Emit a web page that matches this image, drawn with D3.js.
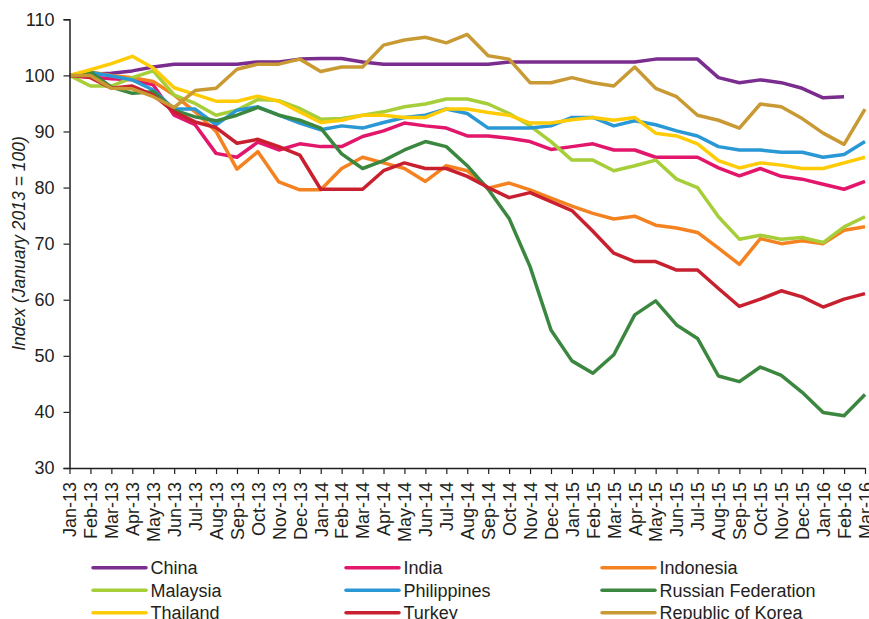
<!DOCTYPE html>
<html><head><meta charset="utf-8">
<script src="https://cdn.jsdelivr.net/npm/d3@7"></script>
<style>
html,body{margin:0;padding:0;background:#fff;}
svg{display:block;font-family:"Liberation Sans",Arial,sans-serif;}
</style></head>
<body><svg id="chart" width="869" height="619"></svg>
<script>
const months = ["Jan-13","Feb-13","Mar-13","Apr-13","May-13","Jun-13","Jul-13","Aug-13","Sep-13","Oct-13","Nov-13","Dec-13",
"Jan-14","Feb-14","Mar-14","Apr-14","May-14","Jun-14","Jul-14","Aug-14","Sep-14","Oct-14","Nov-14","Dec-14",
"Jan-15","Feb-15","Mar-15","Apr-15","May-15","Jun-15","Jul-15","Aug-15","Sep-15","Oct-15","Nov-15","Dec-15",
"Jan-16","Feb-16","Mar-16"];
const yTicks = [30,40,50,60,70,80,90,100,110];

const china = [100,100.2,100.4,100.8,101.5,102,102,102,102,102.4,102.4,102.9,103,103,102.4,102,102,102,102,102,102,102.4,102.4,102.4,102.4,102.4,102.4,102.4,102.9,102.9,102.9,99.6,98.7,99.2,98.7,97.7,96.0,96.2,null];
const india = [100,99.7,99.4,99.2,98.3,92.9,91.2,86.1,85.4,88.1,86.7,87.8,87.3,87.3,89.1,90.1,91.5,91.0,90.6,89.2,89.2,88.8,88.2,86.8,87.3,87.8,86.7,86.7,85.4,85.4,85.4,83.5,82.1,83.4,82.0,81.5,80.6,79.7,81.1];
const indonesia = [100,100.6,100,99.6,98.9,96.5,93.5,90,83.3,86.4,81.0,79.6,79.6,83.4,85.4,84.4,83.4,81.1,83.9,83.0,79.9,80.8,79.6,78.1,76.7,75.4,74.4,74.9,73.3,72.8,72.0,69.2,66.3,70.9,70.0,70.5,70.0,72.4,73.0];
const malaysia = [100,98.1,98.1,99.6,100.8,96.5,95.0,92.9,93.8,95.7,95.5,94.1,92.2,92.3,92.9,93.5,94.4,94.9,95.8,95.8,94.9,93.2,91.0,88.2,84.9,84.9,83.0,83.9,84.9,81.5,80.0,74.8,70.8,71.5,70.8,71.1,70.2,73.0,74.8];
const philippines = [100,100.5,99.9,99.2,97.4,94.0,94.0,91.2,93.8,94.4,92.9,91.5,90.3,91.0,90.6,91.6,92.5,92.9,94.0,93.2,90.6,90.6,90.6,91.0,92.5,92.5,91.0,91.9,91.2,90.1,89.2,87.3,86.7,86.7,86.3,86.3,85.4,85.9,88.2];
const russia = [100,100.6,97.9,96.8,97.1,93.8,92.6,91.9,92.9,94.3,92.9,92.0,90.6,86.0,83.4,84.8,86.7,88.2,87.3,83.9,79.7,74.5,65.9,54.6,49.1,46.9,50.2,57.3,59.8,55.5,53.1,46.4,45.4,48.0,46.5,43.5,39.9,39.3,43.1];
const thailand = [100,101,102.1,103.4,101.3,97.8,96.6,95.4,95.4,96.3,95.4,93.5,91.6,92.0,92.9,92.9,92.5,92.5,94.0,94.0,93.4,92.9,91.5,91.5,92.1,92.5,92.0,92.5,89.7,89.2,87.8,84.8,83.5,84.4,84.0,83.4,83.4,84.4,85.4];
const turkey = [100,99.6,97.7,98.1,96.5,93.5,91.7,90.7,87.9,88.6,87.3,85.8,79.7,79.7,79.7,83.0,84.4,83.4,83.4,82.0,80.0,78.2,79.1,77.5,75.9,72.2,68.3,66.8,66.8,65.3,65.3,62.0,58.8,60.1,61.6,60.5,58.7,60.1,61.1];
const korea = [100,100,97.7,97.6,96.2,94.3,97.3,97.7,101.1,102,102,102.9,100.7,101.5,101.5,105.4,106.3,106.8,105.8,107.3,103.5,102.9,98.7,98.7,99.6,98.7,98.1,101.5,97.7,96.2,92.9,92.0,90.6,94.9,94.4,92.3,89.7,87.7,94.0];

const seriesNames = ["China","India","Indonesia","Malaysia","Philippines","Russian Federation","Thailand","Turkey","Republic of Korea"];
const seriesValues = [china,india,indonesia,malaysia,philippines,russia,thailand,turkey,korea];
const seriesColors = ["#7b2c8f","#e2176c","#f58220","#a6ce39","#2a98d5","#3b873f","#ffcb05","#c8202f","#c99a34"];

const svg = d3.select("#chart");
const x = d3.scalePoint().domain(months).range([69.5, 865]);
const y = d3.scaleLinear().domain([30,110]).range([468, 19.3]);
const ink = "#231f20";

// Lines
const line = d3.line().defined(d => d.v != null).x(d => x(d.m)).y(d => y(d.v));
const g = svg.append("g");
seriesNames.forEach((name, i) => {
  const data = months.map((m, j) => ({m, v: seriesValues[i][j]}));
  g.append("path").datum(data)
    .attr("fill","none").attr("stroke",seriesColors[i])
    .attr("stroke-width",3.5).attr("stroke-linejoin","round")
    .attr("d", line);
});

// Y axis
const yAxis = svg.append("g").attr("transform","translate(69.5,0)")
  .call(d3.axisLeft(y).tickValues(yTicks).tickSize(6).tickPadding(9));
yAxis.select(".domain").attr("stroke",ink).attr("stroke-width",1.5);
yAxis.selectAll(".tick line").attr("stroke",ink).attr("stroke-width",1.2);
yAxis.selectAll(".tick text").attr("fill",ink).style("font-size","18px").style("font-family","'Liberation Sans',Arial,sans-serif");

// X axis
const xAxis = svg.append("g").attr("transform","translate(0,468)")
  .call(d3.axisBottom(x).tickSize(6).tickSizeOuter(0));
xAxis.select(".domain").attr("stroke",ink).attr("stroke-width",1.5);
xAxis.selectAll(".tick line").attr("stroke",ink).attr("stroke-width",1.2);
xAxis.selectAll(".tick text")
  .attr("fill",ink).style("font-size","18px").style("font-family","'Liberation Sans',Arial,sans-serif")
  .attr("transform","rotate(-90)")
  .attr("text-anchor","end")
  .attr("x",-14).attr("y",0).attr("dy","0.35em");

// Y title
svg.append("text")
  .attr("transform","translate(19,243.5) rotate(-90)")
  .attr("text-anchor","middle").attr("dy","0.35em")
  .style("font-style","italic").style("font-size","17.5px").attr("fill",ink)
  .text("Index (January 2013 = 100)");

// Legend
const colX = [93, 346, 602];
const rowY = [567.7, 590.2, 612.7];
seriesNames.forEach((name, i) => {
  const cx = colX[i % 3], cy = rowY[Math.floor(i / 3)];
  svg.append("line").attr("x1",cx).attr("x2",cx+53).attr("y1",cy).attr("y2",cy)
    .attr("stroke",seriesColors[i]).attr("stroke-width",3.5).attr("stroke-linecap","round");
  svg.append("text").attr("x",cx+57.5).attr("y",cy).attr("dy","0.35em")
    .style("font-size","18px").attr("fill",ink).text(name);
});
</script></body></html>
